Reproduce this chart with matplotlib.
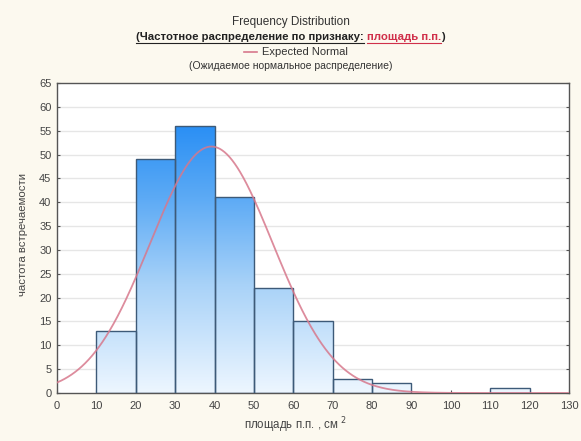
import numpy as np
import matplotlib
matplotlib.use("Agg")
import matplotlib.pyplot as plt
from matplotlib.colors import LinearSegmentedColormap

bin_left = [10, 20, 30, 40, 50, 60, 70, 80, 90, 100, 110]
counts = [13, 49, 56, 41, 22, 15, 3, 2, 0, 0, 1]
bin_width = 10
x_ticks = list(range(0, 131, 10))
y_ticks = list(range(0, 66, 5))

plt.rcParams['font.family'] = ['Liberation Sans', 'DejaVu Sans']

fig = plt.figure(figsize=(5.81, 4.41), dpi=100)
fig.patch.set_facecolor('#fcf9ef')
ax = fig.add_axes([57/581, 1-393/441, (569-57)/581, (393-83)/441])
ax.set_facecolor('white')
ax.set_xlim(0, 130)
ax.set_ylim(0, 65)

# gradient fill (by absolute y)
cmap = LinearSegmentedColormap.from_list(
    'g', [(0.0, '#edf6ff'), (0.35, '#a8d2f8'), (0.63, '#5caaf5'),
          (0.86, '#2a8ff4'), (1.0, '#1a82f0')])
grad = np.linspace(0, 1, 256).reshape(-1, 1)
for xl, c in zip(bin_left, counts):
    if c <= 0:
        continue
    im = ax.imshow(grad, extent=[xl, xl + bin_width, 0, 65], origin='lower',
                   cmap=cmap, aspect='auto', zorder=2, vmin=0, vmax=1)
    rect = plt.Rectangle((xl, 0), bin_width, c, transform=ax.transData)
    im.set_clip_path(rect)
    ax.add_patch(plt.Rectangle((xl, 0), bin_width, c, fill=False,
                               edgecolor='#3d5a78', linewidth=1.0, zorder=3))

# expected normal from data
mids = np.array(bin_left) + bin_width / 2
cnt = np.array(counts)
n = cnt.sum()
mu = (mids * cnt).sum() / n
sd = np.sqrt(((mids - mu) ** 2 * cnt).sum() / n)
xs = np.linspace(0, 130, 600)
ys = n * bin_width / (sd * np.sqrt(2 * np.pi)) * np.exp(-(xs - mu) ** 2 / (2 * sd ** 2))
ax.plot(xs, ys, color='#d7788c', linewidth=1.3, alpha=0.85, zorder=4)

ax.set_xticks(x_ticks)
ax.set_yticks(y_ticks)
for yv in y_ticks[1:-1]:
    ax.axhline(yv, color='#e6e6e6', linewidth=1.0, zorder=1)
ax.tick_params(axis='both', direction='in', length=2, labelsize=8,
               colors='#555555', labelcolor='#444444', right=True)
ax.tick_params(axis='x', pad=5.5)
ax.tick_params(axis='y', pad=4)
for s in ax.spines.values():
    s.set_color('#555555')
    s.set_linewidth(1.0)

ax.set_xlabel('площадь п.п. , см $^2$', fontsize=8.3, color='#444444', labelpad=5)
ax.xaxis.set_label_coords((295-57)/512, -(425-393)/310 + 0.0)
ax.xaxis.label.set_va('center')
ax.set_ylabel('частота встречаемости', fontsize=8.2, color='#444444')
ax.yaxis.set_label_coords(-(57-23)/512, (393-235)/310)
ax.yaxis.label.set_va('center')

fig.text(0.5, 1-22/441, 'Frequency Distribution', ha='center', va='center',
         fontsize=8.5, color='#333333')

left_part = '(Частотное распределение по признаку: '
red_part = 'площадь п.п.'
fs2 = 8.2
fig.canvas.draw()
r = fig.canvas.get_renderer()
tmp1 = fig.text(0, 0, left_part, fontsize=fs2, fontweight='bold')
tmp2 = fig.text(0, 0, red_part, fontsize=fs2, fontweight='bold')
tmp3 = fig.text(0, 0, ')', fontsize=fs2, fontweight='bold')
w1 = tmp1.get_window_extent(r).width / fig.bbox.width
w2 = tmp2.get_window_extent(r).width / fig.bbox.width
w3 = tmp3.get_window_extent(r).width / fig.bbox.width
for t in (tmp1, tmp2, tmp3):
    t.remove()
x0 = 0.5 - (w1 + w2 + w3) / 2
ytl = 1 - 37/441
fig.text(x0, ytl, left_part, ha='left', va='center', fontsize=fs2,
         color='#222222', fontweight='bold')
fig.text(x0 + w1, ytl, red_part, ha='left', va='center', fontsize=fs2,
         color='#d0304a', fontweight='bold')
fig.text(x0 + w1 + w2, ytl, ')', ha='left', va='center', fontsize=fs2,
         color='#222222', fontweight='bold')
uy = ytl - 6/441
fig.add_artist(plt.Line2D([x0, x0 + w1 - 0.006], [uy, uy], color='#222222', lw=0.8,
                          transform=fig.transFigure))
fig.add_artist(plt.Line2D([x0 + w1, x0 + w1 + w2], [uy, uy], color='#d0304a', lw=0.8,
                          transform=fig.transFigure))

fig.text(262/581, 1-52/441, 'Expected Normal', ha='left', va='center',
         fontsize=8, color='#333333')
fig.add_artist(plt.Line2D([244/581, 257/581], [1-52/441, 1-52/441], color='#d7788c',
                          lw=1.2, transform=fig.transFigure))
fig.text(0.5, 1-66/441, '(Ожидаемое нормальное распределение)', ha='center',
         va='center', fontsize=7.5, color='#333333')

fig.savefig('out.png', dpi=100, facecolor=fig.get_facecolor())
